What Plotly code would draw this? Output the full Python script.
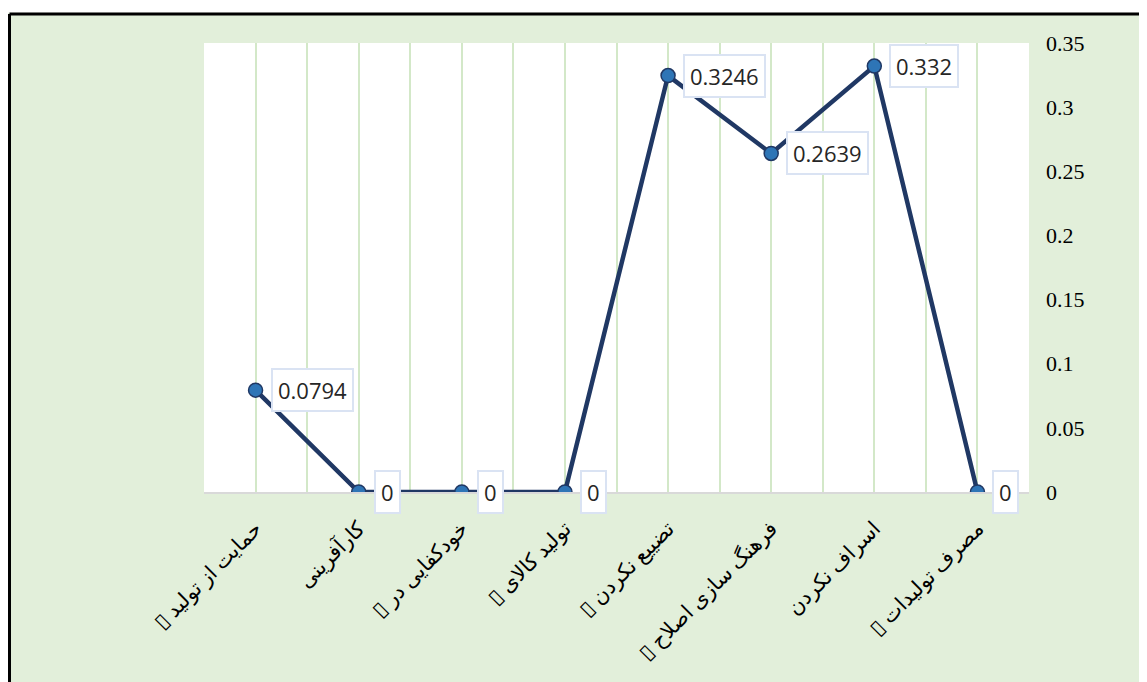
import plotly.graph_objects as go

categories = [
    "▯ حمایت از تولید",
    "کارآفرینی",
    "▯ خودکفایی در",
    "▯ تولید کالای",
    "▯ تضییع نکردن",
    "▯ فرهنگ سازی اصلاح",
    "اسراف نکردن",
    "▯ مصرف تولیدات",
]
values = [0.0794, 0, 0, 0, 0.3246, 0.2639, 0.332, 0]
value_labels = ["0.0794", "0", "0", "0", "0.3246", "0.2639", "0.332", "0"]
y_ticks = [0, 0.05, 0.1, 0.15, 0.2, 0.25, 0.3, 0.35]

x_pos = list(range(len(categories)))
boundaries = [i - 0.5 for i in range(len(categories) + 1)]

GREEN_BG = "#E2EFDA"
GRID = "#D3E8C8"

# page body has an 8px margin, so the figure is offset by 8px on screen
ML, MT, PW, PH = 196, 35, 825, 449
W, H = 1147, 682

fig = go.Figure()
fig.add_trace(go.Scatter(
    x=x_pos, y=values, mode="lines+markers",
    line=dict(color="#203864", width=4.5),
    marker=dict(size=14, color="#2E75B6", line=dict(color="#203864", width=1.5)),
    hoverinfo="skip", showlegend=False,
))

annotations = []
for xi, v, t in zip(x_pos, values, value_labels):
    annotations.append(dict(
        x=xi, y=v, xref="x", yref="y", text=t, showarrow=False,
        xanchor="left", yanchor="middle", xshift=15,
        font=dict(family="Open Sans", size=22, color="#262626"),
        bgcolor="white", bordercolor="#DAE3F3", borderwidth=2, borderpad=5,
    ))

# outer frame: white margin + black border lines (decoration)
L = (1.5 - ML) / PW
T = (MT + PH - 6) / PH
shapes = [
    dict(type="rect", xref="paper", yref="paper", x0=-0.4, x1=L - 0.002, y0=-0.6, y1=1.3,
         fillcolor="white", line=dict(width=0), layer="below"),
    dict(type="rect", xref="paper", yref="paper", x0=-0.4, x1=1.3, y0=T + 0.003, y1=1.3,
         fillcolor="white", line=dict(width=0), layer="below"),
    dict(type="line", xref="paper", yref="paper", x0=L, x1=1.3, y0=T, y1=T,
         line=dict(color="black", width=3)),
    dict(type="line", xref="paper", yref="paper", x0=L, x1=L, y0=-0.6, y1=T,
         line=dict(color="black", width=3)),
]

fig.update_layout(
    width=W, height=H,
    margin=dict(l=ML, r=W - ML - PW, t=MT, b=H - MT - PH),
    paper_bgcolor=GREEN_BG, plot_bgcolor="white",
    annotations=annotations, shapes=shapes,
    xaxis=dict(
        range=[-0.5, 7.5], tickmode="array", tickvals=x_pos, ticktext=categories,
        tickangle=-45, showgrid=True, gridcolor=GRID, gridwidth=1.5,
        minor=dict(tickmode="array", tickvals=boundaries, showgrid=True,
                   gridcolor=GRID, gridwidth=1.5, ticks=""),
        showline=True, linecolor="#D9D9D9", linewidth=2,
        zeroline=False, ticks="", ticklabelstandoff=14,
        tickfont=dict(family="Liberation Serif, DejaVu Sans", size=21, color="black"),
        fixedrange=True,
    ),
    yaxis=dict(
        side="right", range=[0, 0.35], tickmode="array", tickvals=y_ticks,
        showgrid=False, zeroline=False, showline=False, ticks="",
        ticklabelstandoff=16,
        tickfont=dict(family="Liberation Serif", size=22, color="black"),
        fixedrange=True,
    ),
)

fig.write_html("out.html")
